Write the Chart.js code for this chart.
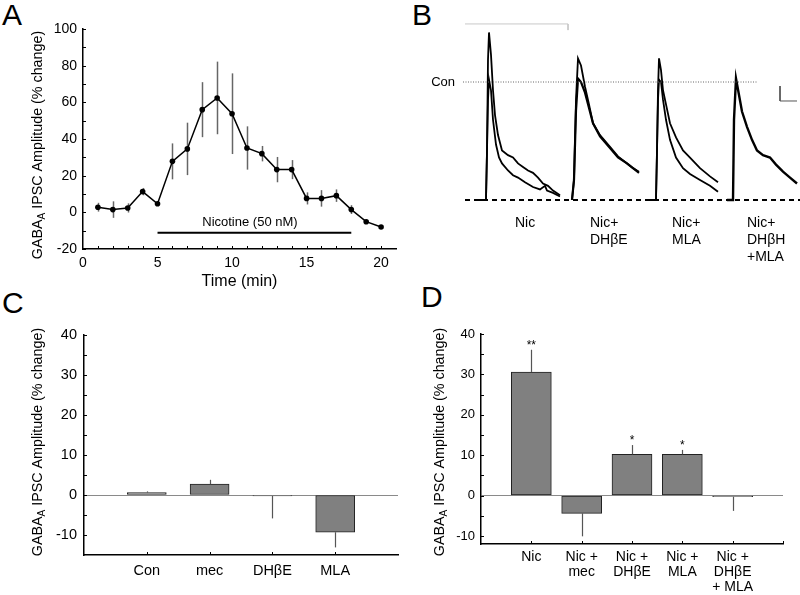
<!DOCTYPE html>
<html><head><meta charset="utf-8">
<script src="https://cdn.jsdelivr.net/npm/chart.js@4.4.1/dist/chart.umd.min.js"></script>
<style>
body{margin:0;background:#fff;width:800px;height:595px;overflow:hidden;position:relative;font-family:"Liberation Sans",Arial,sans-serif;}
canvas{position:absolute;}
.lbl{position:absolute;font-size:30px;line-height:30px;color:#000;}
</style></head><body>
<div class="lbl" style="left:2px;top:0px">A</div>
<div class="lbl" style="left:412px;top:0px">B</div>
<div class="lbl" style="left:2px;top:288px">C</div>
<div class="lbl" style="left:421px;top:282px">D</div>
<canvas id="cA" width="400" height="300" style="left:0;top:0"></canvas>
<canvas id="cB" width="400" height="300" style="left:400px;top:0"></canvas>
<canvas id="cC" width="400" height="295" style="left:0;top:300px"></canvas>
<canvas id="cD" width="400" height="295" style="left:400px;top:300px"></canvas>
<script>
// ---------- Panel A data ----------
const timeMin = [1,2,3,4,5,6,7,8,9,10,11,12,13,14,15,16,17,18,19,20];
const ipscChange = [2.8,1.5,2.4,11.3,4.7,27.8,34.6,56,62.4,53.8,35.1,32,23.3,23.3,7.6,7.6,9.1,1.5,-5.1,-8];
const ipscSem = [2.4,4.5,2.5,2,0,9.8,14.3,15,19.8,22,11.8,4.2,6.9,5.2,3.3,4.5,3.4,2.4,0,0];
const nicotineLabel = 'Nicotine (50 nM)';
const nicotineSpan = [5, 18];
const nicotineLevel = -11.2;
const xTicksA = [0,5,10,15,20];
const yTicksA = [-20,0,20,40,60,80,100];
const Y_TITLE = ['GABA','A',' IPSC Amplitude (% change)'];

// ---------- Panel B data (time units, amplitude % of control) ----------
const traceNicHigh = [[13,0],[21,0],[22,42],[23,119],[24,142],[26,123],[28,93],[30,72],[33,55],[37,42],[43,38],[48,36],[53,31],[58,28],[63,25],[68,23],[73,19],[78,14],[83,12],[88,8],[95,4]];
const traceNicLow = [[13,0],[21,0],[22,42],[23,85],[24,102],[26,93],[28,68],[31,47],[34,36],[37,31],[43,25],[48,21],[53,19],[60,15],[68,11],[75,9],[80,12],[82,8],[88,6],[95,3]];
const traceDhbeHigh = [[107,0],[109,17],[111,85],[113,120],[116,114],[120,96],[124,81],[128,65],[135,55],[145,45],[153,37],[162,31],[168,27],[174,24]];
const traceDhbeLow = [[107,0],[109,17],[111,76],[113,103],[116,100],[120,91],[124,78],[128,65],[135,54],[145,44],[153,36],[162,31],[168,27],[174,23]];
const traceMlaHigh = [[183,0],[191,0],[192,42],[193,93],[194,120],[196,110],[198,93],[201,81],[205,65],[211,53],[218,42],[225,36],[235,27],[245,20],[253,15]];
const traceMlaLow = [[183,0],[191,0],[192,42],[193,85],[194,102],[196,100],[198,85],[201,68],[205,51],[211,36],[218,27],[225,22],[235,17],[245,12],[253,7]];
const traceBoth = [[262,0],[268,0],[269,68],[271,103],[274,89],[277,75],[282,62],[287,51],[292,42],[298,38],[305,36],[311,30],[318,24],[325,19],[332,14]];
const controlLevel = 100;
const baselineSpan = [0, 335];
const controlSpan = [-2, 293];
const stimMark = [[0,149.2],[103,149.2],[103,144]];
const scaleBar = [[315,96.6],[315,83.9],[332,83.9]];
const traceLabels = [['Nic'],['Nic+','DHβE'],['Nic+','MLA'],['Nic+','DHβH','+MLA']];

// ---------- Panel C data ----------
const groupsC = ['Con','mec','DHβE','MLA'];
const meanC = [0.6, 2.7, -0.25, -9.3];
const semC = [0.3, 1.1, 5.6, 3.8];
const yTicksCD = [-10,0,10,20,30,40];

// ---------- Panel D data ----------
const groupsD = [['Nic'],['Nic +','mec'],['Nic +','DHβE'],['Nic +','MLA'],['Nic +','DHβE','+ MLA']];
const meanD = [30.6, -4.4, 10.2, 10.2, -0.3];
const semD = [5.5, 5.7, 2.3, 1.1, 3.5];
const sigD = ['**','','*','*',''];

const FONT = '"Liberation Sans", Arial, sans-serif';
Chart.defaults.font.family = FONT;
Chart.defaults.color = '#000';

const range = (a,b,s)=>{const r=[];for(let v=a;v<=b+1e-9;v+=s)r.push(Math.round(v*100)/100);return r;};

// ---------- plugins ----------
const inTicks = {
  id:'inTicks',
  afterDraw(chart,args,o){
    if(!o.list) return;
    const ctx=chart.ctx, ca=chart.chartArea;
    ctx.save(); ctx.strokeStyle='#000'; ctx.lineWidth=1;
    o.list.forEach(t=>{
      const sc=chart.scales[t.axis];
      t.values.forEach(v=>{
        const p=Math.round(sc.getPixelForValue(v))+0.5;
        ctx.beginPath();
        if(t.axis==='y'){ctx.moveTo(ca.left,p);ctx.lineTo(ca.left+t.len,p);}
        else{ctx.moveTo(p,ca.bottom);ctx.lineTo(p,ca.bottom-t.len);}
        ctx.stroke();
      });
    });
    ctx.restore();
  }
};
function drawErr(chart,o){
  const ctx=chart.ctx, ys=chart.scales.y;
  const meta=chart.getDatasetMeta(0);
  ctx.save(); ctx.strokeStyle=o.color||'#555'; ctx.lineWidth=o.width||1.2;
  meta.data.forEach((el,i)=>{
    const v=o.values[i], e=o.err[i];
    if(!e) return;
    let a,b;
    if(o.oneSided){const s=v<0?-1:1;a=v;b=v+s*e;} else {a=v-e;b=v+e;}
    const x=Math.round(el.x)+0.5;
    ctx.beginPath();ctx.moveTo(x,ys.getPixelForValue(a));ctx.lineTo(x,ys.getPixelForValue(b));ctx.stroke();
  });
  ctx.restore();
}
const errBars = {
  id:'errBars',
  beforeDatasetsDraw(chart,args,o){ if(o.err && o.behind) drawErr(chart,o); },
  afterDatasetsDraw(chart,args,o){ if(o.err && !o.behind) drawErr(chart,o); }
};
const yTitle = {
  id:'yTitle',
  afterDraw(chart,args,o){
    if(!o.x) return;
    const ctx=chart.ctx; ctx.save();
    ctx.translate(o.x,o.y); ctx.rotate(-Math.PI/2);
    const f=o.size, fs=Math.round(f*0.72);
    const F=s=>s+'px '+FONT;
    ctx.font=F(f); const w1=ctx.measureText(Y_TITLE[0]).width, w3=ctx.measureText(Y_TITLE[2]).width;
    ctx.font=F(fs); const w2=ctx.measureText(Y_TITLE[1]).width;
    let x=-(w1+w2+w3)/2;
    ctx.fillStyle='#000'; ctx.textBaseline='middle'; ctx.textAlign='left';
    ctx.font=F(f); ctx.fillText(Y_TITLE[0],x,0); x+=w1;
    ctx.font=F(fs); ctx.fillText(Y_TITLE[1],x,f*0.32); x+=w2;
    ctx.font=F(f); ctx.fillText(Y_TITLE[2],x,0);
    ctx.restore();
  }
};
const notes = {
  id:'notes',
  afterDraw(chart,args,o){
    if(!o.items) return;
    const ctx=chart.ctx, xs=chart.scales.x, ys=chart.scales.y;
    ctx.save(); ctx.fillStyle='#000';
    o.items.forEach(it=>{
      ctx.font=it.size+'px '+FONT;
      ctx.textAlign=it.align||'center'; ctx.textBaseline=it.baseline||'middle';
      const x=xs.getPixelForValue(it.x)+(it.dx||0), y=ys.getPixelForValue(it.y)+(it.dy||0);
      [].concat(it.text).forEach((t,k)=>ctx.fillText(t,x,y+k*(it.lh||0)));
    });
    ctx.restore();
  }
};
Chart.register(inTicks, errBars, yTitle, notes);

const base = {responsive:false, animation:false, devicePixelRatio:1, events:[]};
const noPlug = {legend:{display:false}, tooltip:{enabled:false}};
const axisBorder = {display:true, color:'#000', width:1.5};

// ---------- Panel A ----------
new Chart(document.getElementById('cA'), {
  type:'line',
  data:{datasets:[
    {data: timeMin.map((t,i)=>({x:t,y:ipscChange[i]})), borderColor:'#000', backgroundColor:'#000', borderWidth:1.5,
     pointRadius:2.8, pointBorderWidth:0, pointBackgroundColor:'#000', tension:0},
    {data: nicotineSpan.map(t=>({x:t,y:nicotineLevel})), borderColor:'#000', borderWidth:2, pointRadius:0}
  ]},
  options:{...base,
    layout:{padding:{left:0,right:3,top:29,bottom:0}},
    plugins:{...noPlug,
      errBars:{values:ipscChange, err:ipscSem, behind:true, color:'#666', width:1.5},
      yTitle:{x:38, y:145, size:14.3},
      inTicks:{list:[{axis:'y', values:range(-20,100,10), len:3},{axis:'x', values:range(1,20,1), len:3}]},
      notes:{items:[{text:nicotineLabel, x:11.2, y:-5.6, size:13}]}
    },
    scales:{
      x:{type:'linear', min:0, max:21,
        afterBuildTicks:s=>{s.ticks=xTicksA.map(v=>({value:v}));},
        afterFit:s=>{s.height=51;},
        grid:{display:false, drawTicks:false}, border:axisBorder,
        ticks:{padding:6, font:{size:14}, color:'#000'},
        title:{display:true, text:'Time (min)', font:{size:16}, color:'#000', padding:{top:0,bottom:9}}},
      y:{type:'linear', min:-20, max:100,
        afterBuildTicks:s=>{s.ticks=yTicksA.map(v=>({value:v}));},
        afterFit:s=>{s.width=83;},
        grid:{display:false, drawTicks:false}, border:axisBorder,
        ticks:{padding:6, font:{size:14}, color:'#000'}}
    }
  }
});

// ---------- Panel B ----------
const pts = arr=>arr.map(p=>({x:p[0],y:p[1]}));
const traceStyle = (w)=>({borderColor:'#000', borderWidth:w, pointRadius:0, tension:0, clip:false});
new Chart(document.getElementById('cB'), {
  type:'line',
  data:{datasets:[
    {data: baselineSpan.map(t=>({x:t,y:0})), borderColor:'#000', borderWidth:2, borderDash:[5,4], pointRadius:0, clip:false},
    {data: controlSpan.map(t=>({x:t,y:controlLevel})), borderColor:'#666', borderWidth:1, borderDash:[1,1.5], pointRadius:0, clip:false},
    {data: pts(stimMark), borderColor:'#c8c8c8', borderWidth:1, pointRadius:0, clip:false},
    {data: pts(scaleBar), borderColor:'#555', borderWidth:1, pointRadius:0, clip:false},
    {data: pts(traceNicHigh), ...traceStyle(1.8)},
    {data: pts(traceNicLow), ...traceStyle(1.8)},
    {data: pts(traceDhbeHigh), ...traceStyle(1.8)},
    {data: pts(traceDhbeLow), ...traceStyle(2.2)},
    {data: pts(traceMlaHigh), ...traceStyle(1.8)},
    {data: pts(traceMlaLow), ...traceStyle(1.8)},
    {data: pts(traceBoth), ...traceStyle(2.4)}
  ]},
  options:{...base,
    layout:{padding:{left:65,right:0,top:17.1,bottom:88.2}},
    plugins:{...noPlug,
      notes:{items:[
        {text:'Con', x:controlSpan[0], y:controlLevel, dx:-8, align:'right', size:13},
        {text:traceLabels[0], x:50, y:-19.5, align:'left', size:14, lh:17},
        {text:traceLabels[1], x:125, y:-19.5, align:'left', size:14, lh:17},
        {text:traceLabels[2], x:207, y:-19.5, align:'left', size:14, lh:17},
        {text:traceLabels[3], x:282, y:-19.5, align:'left', size:14, lh:17}
      ]}
    },
    scales:{
      x:{type:'linear', min:0, max:335, display:false},
      y:{type:'linear', min:-10, max:155, display:false}
    }
  }
});

// ---------- bar panel builder ----------
function barPanel(id, groups, means, sems, opt){
  return new Chart(document.getElementById(id), {
    type:'bar',
    data:{datasets:[{data: groups.map((g,i)=>({x:i+1,y:means[i]})),
      backgroundColor:'#808080', borderColor:'#222', borderWidth:1, borderSkipped:false, barThickness:opt.bar}]},
    options:{...base,
      layout:{padding:opt.pad},
      plugins:{...noPlug,
        errBars:{values:means, err:sems, oneSided:true, color:'#555', width:1.2},
        yTitle:{x:opt.tx, y:opt.ty, size:14.3},
        inTicks:{list:[{axis:'y', values:range(-10,40,5), len:3},{axis:'x', values:opt.xt, len:3}]},
        notes:{items:opt.notes||[]}
      },
      scales:{
        x:{type:'linear', min:0, max:opt.xmax, offset:false,
          afterBuildTicks:s=>{s.ticks=groups.map((g,i)=>({value:i+1}));},
          afterFit:s=>{s.height=opt.xh;},
          grid:{display:false, drawTicks:false}, border:axisBorder,
          ticks:{padding:opt.xpad, font:{size:opt.fs, lineHeight:1.1}, color:'#000', maxRotation:0, autoSkip:false,
            callback:(v)=>groups[Math.round(v)-1]}},
        y:{type:'linear', min:opt.ymin, max:40,
          afterBuildTicks:s=>{s.ticks=yTicksCD.map(v=>({value:v}));},
          afterFit:s=>{s.width=opt.yw;},
          grid:{display:true, drawTicks:false, drawOnChartArea:true, lineWidth:1,
            color:c=>(c.tick && c.tick.value===0)?'#8a8a8a':'rgba(0,0,0,0)'},
          border:axisBorder,
          ticks:{padding:opt.ypad, font:{size:opt.yfs}, color:'#000'}}
      }
    }
  });
}

barPanel('cC', groupsC, meanC, semC, {
  bar:39, pad:{left:0,right:2,top:35,bottom:0}, tx:38, ty:142, xt:[1,2,3,4], xmax:5, xh:40, xpad:8, fs:14.5,
  ymin:-15, yw:84, ypad:7, yfs:14.5
});

barPanel('cD', groupsD, meanD, semD, {
  bar:40, pad:{left:0,right:17,top:34,bottom:0}, tx:40, ty:142, xt:[1,2,3,4,5,6], xmax:6, xh:51, xpad:5, fs:14,
  ymin:-12, yw:81, ypad:6, yfs:13,
  notes: sigD.map((s,i)=>({text:s, x:i+1, y:meanD[i]+semD[i], dy:-1, baseline:'alphabetic', size:12})).filter(n=>n.text)
});
</script>
</body></html>
